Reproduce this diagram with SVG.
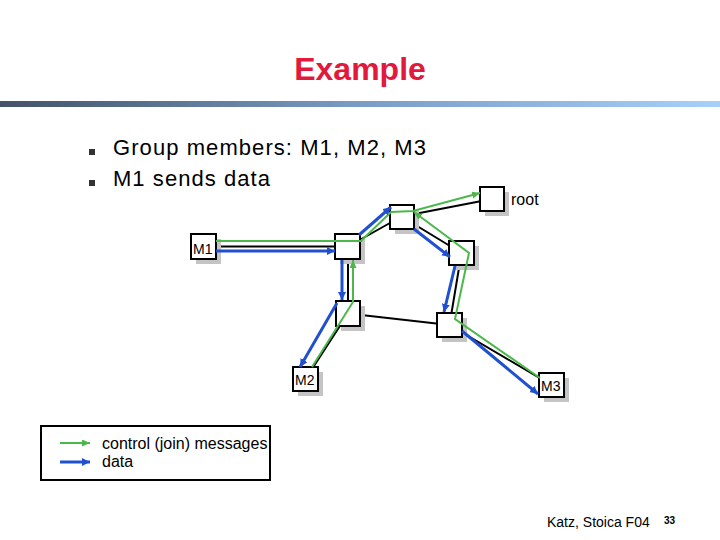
<svg xmlns="http://www.w3.org/2000/svg" width="720" height="540" viewBox="0 0 720 540">
<defs>
<linearGradient id="bar" x1="0" y1="0" x2="1" y2="0">
<stop offset="0" stop-color="#435368"/>
<stop offset="0.5" stop-color="#7a9cc4"/>
<stop offset="1" stop-color="#a6d0fa"/>
</linearGradient>
<marker id="ag" markerUnits="userSpaceOnUse" markerWidth="10" markerHeight="8" refX="8" refY="3.5" orient="auto">
<path d="M0,0 L8,3.5 L0,7 z" fill="#4cb84c"/>
</marker>
<marker id="ab" markerUnits="userSpaceOnUse" markerWidth="10" markerHeight="9" refX="8" refY="4" orient="auto">
<path d="M0,0 L8,4 L0,8 z" fill="#2050d0"/>
</marker>
<style>
.t{font-family:"Liberation Sans",Arial,sans-serif;fill:#000}
.box{fill:#fff;stroke:#000;stroke-width:2}
.sh{fill:#c4c4c4}
.blk{stroke:#000;stroke-width:2;fill:none}
.g{stroke:#4cb84c;stroke-width:2;fill:none;marker-end:url(#ag)}
.b{stroke:#2050d0;stroke-width:3;fill:none;marker-end:url(#ab)}
</style>
</defs>
<rect width="720" height="540" fill="#fff"/>
<text class="t" x="360" y="80" text-anchor="middle" font-size="32" font-weight="bold" style="fill:#e3183d">Example</text>
<rect x="0" y="101" width="720" height="6" fill="url(#bar)"/>
<rect x="89" y="149" width="6" height="6" fill="#333"/>
<rect x="89" y="180" width="6" height="6" fill="#333"/>
<text class="t" x="113" y="155" font-size="22" textLength="313">Group members: M1, M2, M3</text>
<text class="t" x="113" y="186" font-size="22" textLength="157">M1 sends data</text>

<g id="black-links">
<path class="blk" d="M203.5,246.5 L348,246.5 M348,246.5 L348,313.5 M348,246.5 L401.5,216.5 M401.5,216.5 L492,199 M401.5,216.5 L461.5,253 M461.5,253 L449.5,325 M348,313.5 L449.5,325 M348,313.5 L305.5,379 M449.5,325 L551.5,385"/>
</g>

<g id="M1"><rect class="sh" x="196" y="239" width="25" height="25"/><rect class="box" x="191" y="234" width="25" height="25"/><text class="t" x="193" y="254" font-size="14">M1</text></g>
<g id="n1"><rect class="sh" x="340" y="239" width="25" height="25"/><rect class="box" x="335" y="234" width="25" height="25"/></g>
<g id="n2"><rect class="sh" x="341" y="306" width="24" height="25"/><rect class="box" x="336" y="301" width="24" height="25"/></g>
<g id="n3"><rect class="sh" x="395" y="210" width="24" height="24"/><rect class="box" x="390" y="205" width="24" height="24"/></g>
<g id="root"><rect class="sh" x="485" y="192" width="24" height="24"/><rect class="box" x="480" y="187" width="24" height="24"/><text class="t" x="511" y="205" font-size="16">root</text></g>
<g id="n4"><rect class="sh" x="454" y="246" width="25" height="24"/><rect class="box" x="449" y="241" width="25" height="24"/></g>
<g id="n5"><rect class="sh" x="442" y="318" width="25" height="24"/><rect class="box" x="437" y="313" width="25" height="24"/></g>
<g id="M2"><rect class="sh" x="298" y="372" width="25" height="24"/><rect class="box" x="293" y="367" width="25" height="24"/><text class="t" x="295" y="385" font-size="14">M2</text></g>
<g id="M3"><rect class="sh" x="544" y="378" width="25" height="24"/><rect class="box" x="539" y="373" width="25" height="24"/><text class="t" x="541" y="391" font-size="14">M3</text></g>

<g id="connectors">
<path class="g" d="M216,241 L361,241 L391,212 L413,211 L480,193"/>
<path class="g" d="M540,378 L455,319 L469,253 L414,212"/>
<path class="g" d="M312,367 L353,302 L353,260"/>
<path class="b" d="M216,251 L335,251"/>
<path class="b" d="M342,260 L342,300"/>
<path class="b" d="M337,303 L300,367"/>
<path class="b" d="M359,235 L391,207"/>
<path class="b" d="M414,229 L450,257"/>
<path class="b" d="M455,266 L444,312"/>
<path class="b" d="M462,331 L538,394"/>
</g>

<g id="legend">
<rect x="41" y="426" width="229" height="54" fill="#fff" stroke="#000" stroke-width="2"/>
<path class="g" d="M60,443 L90,443"/>
<path class="b" d="M60,462 L90,462"/>
<text class="t" x="102" y="449" font-size="16">control (join) messages</text>
<text class="t" x="102" y="467" font-size="16">data</text>
</g>
<text class="t" x="547" y="527" font-size="14">Katz, Stoica F04</text>
<text class="t" x="664" y="524" font-size="10" font-weight="bold">33</text>
</svg>
